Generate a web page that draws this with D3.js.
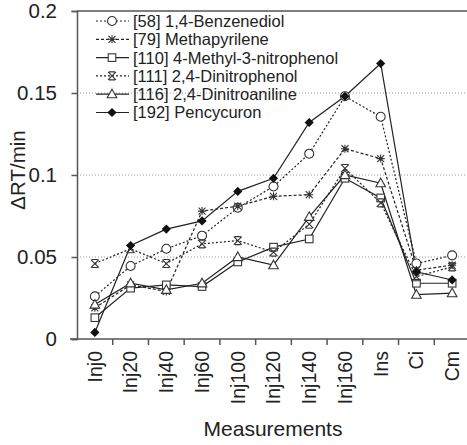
<!DOCTYPE html>
<html><head><meta charset="utf-8">
<script src="https://cdn.jsdelivr.net/npm/d3@7/dist/d3.min.js"></script>
<style>body{margin:0;background:#fff}svg{display:block}text{font-family:"Liberation Sans",Arial,sans-serif;fill:#222}</style>
</head><body><svg id="c" width="467" height="445"></svg>
<script>
const categories = ["Inj0","Inj20","Inj40","Inj60","Inj100","Inj120","Inj140","Inj160","Ins","Ci","Cm"];
const benzenediol   = [0.026,0.0445,0.055,0.063,0.080,0.093,0.113,0.148,0.1355,0.046,0.051];
const methapyrilene = [0.019,0.033,0.029,0.078,0.081,0.087,0.088,0.116,0.110,0.042,0.045];
const methylnitro   = [0.013,0.031,0.033,0.032,0.047,0.056,0.061,0.098,0.086,0.034,0.034];
const dinitrophenol = [0.046,0.055,0.046,0.058,0.060,0.053,0.070,0.104,0.083,0.038,0.044];
const dinitroaniline= [0.021,0.034,0.030,0.034,0.050,0.045,0.0745,0.100,0.095,0.027,0.028];
const pencycuron    = [0.004,0.057,0.067,0.072,0.090,0.098,0.132,0.148,0.168,0.041,0.036];
const seriesNames = ["[58] 1,4-Benzenediol","[79] Methapyrilene","[110] 4-Methyl-3-nitrophenol","[111] 2,4-Dinitrophenol","[116] 2,4-Dinitroaniline","[192] Pencycuron"];
const yTicks = [0,0.05,0.1,0.15,0.2];
const yTickLabels = ["0","0.05","0.1","0.15","0.2"];

const series = [
  {name:seriesNames[0], values:benzenediol, dash:"2,2", marker:"circle"},
  {name:seriesNames[1], values:methapyrilene, dash:"3,2", marker:"asterisk"},
  {name:seriesNames[2], values:methylnitro, dash:null, marker:"square"},
  {name:seriesNames[3], values:dinitrophenol, dash:"2,2", marker:"cross"},
  {name:seriesNames[4], values:dinitroaniline, dash:null, marker:"triangle"},
  {name:seriesNames[5], values:pencycuron, dash:null, marker:"diamond"}
];

const svg = d3.select("#c");
const L=77, R=470, T=11, B=339;
const x = d3.scaleBand().domain(categories).range([L,R]);
const y = d3.scaleLinear().domain([0,0.2]).range([B,T]);
const axisCol = "#555";

// grid
svg.append("g").selectAll("line").data([0.05,0.1,0.15]).join("line")
  .attr("x1",L).attr("x2",467).attr("y1",d=>y(d)).attr("y2",d=>y(d))
  .attr("stroke","#999").attr("stroke-width",1.2).attr("stroke-dasharray","1,2");
// top border
svg.append("line").attr("x1",L).attr("x2",467).attr("y1",y(0.2)).attr("y2",y(0.2)).attr("stroke",axisCol).attr("stroke-width",1.5);

// y axis
const ya = svg.append("g").attr("transform",`translate(${L},0)`)
  .call(d3.axisLeft(y).tickValues(yTicks).tickFormat((d,i)=>yTickLabels[i]).tickSize(5.5).tickPadding(14.5));
ya.select(".domain").attr("stroke",axisCol).attr("stroke-width",1.5);
ya.selectAll(".tick line").attr("stroke",axisCol).attr("stroke-width",1.5);
ya.selectAll("text").attr("font-size",20.5).style("font-family","Liberation Sans, Arial").attr("fill","#333");

// x axis
const xa = svg.append("g").attr("transform",`translate(0,${B})`)
  .call(d3.axisBottom(x).tickSize(0).tickPadding(0));
xa.select(".domain").attr("stroke",axisCol).attr("stroke-width",1.5).attr("d",`M${L-7},0H467`);
xa.selectAll(".tick text").attr("font-size",19.5).attr("fill","#333").style("font-family","Liberation Sans, Arial")
  .attr("text-anchor","end").attr("dy","0.35em").attr("transform","translate(0,12) rotate(-90)");
// boundary ticks
svg.append("g").selectAll("line").data(categories.slice(1)).join("line")
  .attr("x1",d=>x(d)).attr("x2",d=>x(d)).attr("y1",B).attr("y2",B+6).attr("stroke",axisCol).attr("stroke-width",1.5);

// titles
svg.append("text").attr("x",273).attr("y",436).attr("text-anchor","middle").attr("font-size",21).attr("fill","#333").text("Measurements");
svg.append("text").attr("transform","translate(25,170) rotate(-90)").attr("text-anchor","middle").attr("font-size",20.5).attr("fill","#333").text("ΔRT/min");

function drawMarker(g, type, cx, cy){
  const s = g.append("g").attr("transform",`translate(${cx},${cy})`);
  const st = {stroke:"#333","stroke-width":1.1};
  function ap(el){ for(const k in st) el.attr(k, st[k]); return el; }
  if(type==="circle") ap(s.append("circle").attr("r",4.5).attr("fill","#fff"));
  else if(type==="square") ap(s.append("rect").attr("x",-3.8).attr("y",-3.8).attr("width",7.6).attr("height",7.6).attr("fill","#fff"));
  else if(type==="triangle") ap(s.append("path").attr("d","M0,-5L4.8,3.6L-4.8,3.6Z").attr("fill","#fff"));
  else if(type==="diamond") s.append("path").attr("d","M0,-4.6L4.6,0L0,4.6L-4.6,0Z").attr("fill","#111");
  else if(type==="cross") ap(s.append("path").attr("d","M-4,-4L4,4M-4,4L4,-4M-3,-4H3M-3,4H3").attr("fill","none"));
  else if(type==="asterisk") ap(s.append("path").attr("d","M-3.5,-3.5L3.5,3.5M-3.5,3.5L3.5,-3.5M0,-4V4M-4,0H4").attr("fill","none"));
}

const line = d3.line().x((d,i)=>x(categories[i])+x.bandwidth()/2).y(d=>y(d));
series.forEach(s=>{
  svg.append("path").attr("d",line(s.values)).attr("fill","none").attr("stroke","#222")
    .attr("stroke-width",1.2).attr("stroke-dasharray",s.dash);
});
series.forEach(s=>{
  const g = svg.append("g");
  s.values.forEach((v,i)=>drawMarker(g,s.marker,x(categories[i])+x.bandwidth()/2,y(v)));
});

// legend
const lg = svg.append("g");
series.forEach((s,i)=>{
  const yy = 21 + i*18.3;
  lg.append("line").attr("x1",96).attr("x2",129).attr("y1",yy).attr("y2",yy).attr("stroke","#222")
    .attr("stroke-width",1.2).attr("stroke-dasharray",s.dash);
  drawMarker(lg,s.marker,112,yy);
  lg.append("text").attr("x",133).attr("y",yy).attr("dy","0.36em").attr("font-size",16.5).attr("fill","#333").text(s.name);
});
</script></body></html>
